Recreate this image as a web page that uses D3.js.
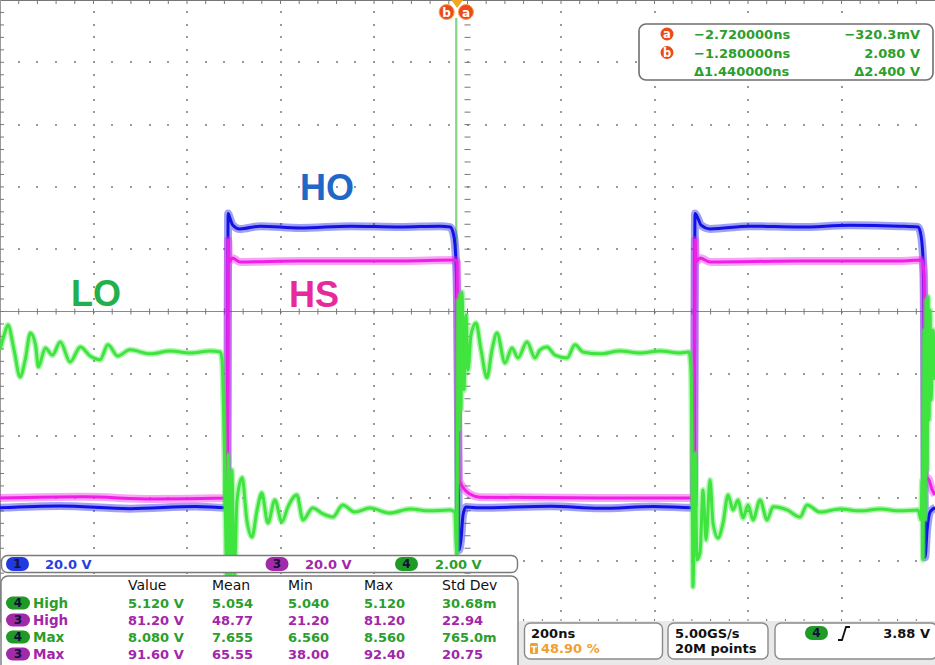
<!DOCTYPE html>
<html><head><meta charset="utf-8">
<script src="https://cdn.jsdelivr.net/npm/d3@7"></script>
<style>html,body{margin:0;padding:0;background:#fff;}svg{display:block;}</style>
</head><body>
<script>
// ---------- data ----------
const timePerDivNs = 200;
const triggerPct = 48.9;
// channel settings: [volts/div, position (div)]
const ch1Setting = [20, -3.15];   // HO
const ch3Setting = [20, -3.0];    // HS
const ch4Setting = [2, -3.2];     // LO

// traces: [time ns, volts]
const hoTrace = [[-978,0],[-850,0.6],[-700,-0.3],[-560,0.4],[-495,0],[-492,0.9],[-490,94.5],[-486,92.9],[-480,90.7],[-465,89.5],[-422,90.4],[-336,89.8],[-229,90.4],[-122,90.1],[-37,90.4],[-15,90.1],[-9,88.4],[-4.7,84.3],[-0.4,66.6],[1.7,28.1],[3.9,-13.6],[8.1,-10.3],[12.4,-2.3],[18.8,0.2],[48.8,0],[200,0.5],[305,-0.2],[420,0.4],[502,0],[506.5,0.9],[508.7,94.5],[515,92.9],[521.5,90.7],[541,89.5],[626,90.4],[733,90.1],[840,90.7],[947,90.4],[986,90.1],[992,87.5],[996.5,79.5],[998.6,57.0],[1000.7,-15.9],[1005,-7.3],[1011.5,-1.4],[1022,0]];
const hsTrace = [[-978,0.1],[-800,0.5],[-650,-0.2],[-495,0.1],[-492,1.1],[-490,83],[-488,75.9],[-481,77.2],[-465,75.9],[-336,76.2],[-122,76.2],[-4.7,76.5],[-0.4,75.9],[1.7,31.6],[3.9,5.9],[8.1,4.6],[16.6,2.7],[27.4,1.4],[48.8,0.4],[305,0.1],[504,0.1],[506.5,1.1],[508.7,83],[510.8,75.9],[519.4,77.2],[541,75.9],[733,76.2],[947,76.2],[994,76.5],[998.6,71.7],[1000.7,5.9],[1007,6.5],[1016,2.7],[1022,1.1]];
const loTrace = [[-978,5.17],[-969,5.65],[-961,5.97],[-948,5.17],[-935,4.30],[-924,4.85],[-913,5.71],[-902,5.33],[-896,4.62],[-881,5.23],[-866,5.00],[-849,5.42],[-828,4.78],[-806,5.26],[-785,4.97],[-764,4.85],[-747,5.33],[-726,4.97],[-700,5.17],[-657,5.04],[-614,5.13],[-571,5.07],[-528,5.13],[-507,5.10],
 [-503,4.85],[-499,2.60],[-495,-0.93],[-492,-2.86],[-490,1.80],[-486,-3.18],[-482,1.31],[-477,-2.22],[-471,0.35],[-460,1.06],[-450,-0.29],[-439,-0.84],[-428,0.03],[-418,0.57],[-405,-0.39],[-390,0.35],[-375,-0.36],[-362,0.13],[-343,0.51],[-330,-0.29],[-309,0.09],[-287,-0.10],[-266,-0.20],[-245,0.19],[-219,-0.04],[-187,0.09],[-144,-0.07],[-101,0.06],[-58,0.00],[-15,0.03],[-5,-0.04],
 [-2.6,-0.93],[-0.4,-1.41],[1.7,6.77],[3.9,2.60],[6.0,6.93],[8.1,3.24],[10.3,7.02],[14.5,3.88],[18.8,6.29],[23.1,4.52],[29.5,5.65],[40.2,6.03],[50.9,5.17],[63.7,4.27],[74.4,5.17],[85.1,5.71],[102.2,4.75],[117.2,5.23],[130,4.91],[149.3,5.42],[166.4,4.91],[177.1,5.17],[192.1,5.26],[209.2,5.00],[234.9,4.91],[252,5.33],[269.1,5.10],[305.4,5.04],[348.2,5.13],[391,5.07],[433.8,5.13],[476.6,5.07],[495.8,5.10],
 [500.1,4.52],[502.2,1.96],[504.4,-2.44],[508.7,1.86],[513,-1.57],[519.4,-1.35],[525.8,0.67],[532.2,-0.93],[540.8,0.99],[547.2,-0.39],[557.9,-0.87],[568.6,-0.39],[579.3,0.51],[590,0.03],[600.7,0.35],[611.4,-0.23],[622.1,0.19],[632.8,-0.29],[647.8,0.35],[662.8,-0.29],[675.6,0.13],[705.5,0.03],[733.3,-0.20],[748.3,0.19],[776.1,-0.04],[818.9,0.06],[861.7,0.00],[904.5,0.06],[947.3,0.00],[985.8,0.03],
 [992.2,-0.29],[994.3,0.99],[996.5,-1.57],[998.6,5.81],[1000.7,-0.29],[1002.9,6.77],[1005,1.31],[1007.2,6.87],[1009.3,2.92],[1011.5,6.45],[1013.6,3.56],[1017.9,5.81],[1022,4.20]];

const cursorTimes = [-2.72, -1.28];      // a, b
const cursorRows = [["a","\u22122.720000ns","\u2212320.3mV"],["b","\u22121.280000ns","2.080 V"],["","\u03941.440000ns","\u03942.400 V"]];
const channelBar = [["1","20.0 V"],["3","20.0 V"],["4","2.00 V"]];
const measHeaders = ["Value","Mean","Min","Max","Std Dev"];
const measLabels = [["4","High"],["3","High"],["4","Max"],["3","Max"]];
const measValues = [
  ["5.120 V","5.054","5.040","5.120","30.68m"],
  ["81.20 V","48.77","21.20","81.20","22.94"],
  ["8.080 V","7.655","6.560","8.560","765.0m"],
  ["91.60 V","65.55","38.00","92.40","20.75"]];
const timebaseText = ["200ns","48.90 %"];
const acqText = ["5.00GS/s","20M points"];
const trigText = ["4","3.88 V"];
const traceLabels = [["HO",1],["LO",4],["HS",3]];

// ---------- styles ----------
const W = 935, H = 665, GW = 935, GH = 623;
const col = {1:"#1212e6", 3:"#f01ee6", 4:"#3fe43f"};
const txtCol = {1:"#2a3ee0", 3:"#a326aa", 4:"#2c9e2c"};
const pillCol = {1:"#2238e0", 3:"#a02aa8", 4:"#1f9a25"};
const labelCol = {1:"#1f68c8", 3:"#e62a9c", 4:"#22b04c"};
const font = "'DejaVu Sans', Verdana, sans-serif";

const svg = d3.select("body").append("svg").attr("width", W).attr("height", H);
svg.append("rect").attr("width", W).attr("height", H).attr("fill", "#fff");

const x = d3.scaleLinear()
  .domain([-triggerPct/10*timePerDivNs, (10-triggerPct/10)*timePerDivNs])
  .range([0, GW]);
function yFor(s){ return d3.scaleLinear().domain([(-5 - s[1])*s[0], (5 - s[1])*s[0]]).range([GH, 0]); }
const y1 = yFor(ch1Setting), y3 = yFor(ch3Setting), y4 = yFor(ch4Setting);

// ---------- graticule ----------
const dx = GW/10, dy = GH/10;
const g = svg.append("g");
const dots = [];
for (let k = 1; k < 10; k++) {
  if (k === 5) continue;
  for (let j = 1; j < 50; j++) dots.push([k*dx, j*dy/5]);
  for (let j = 1; j < 50; j++) dots.push([j*dx/5, k*dy]);
}
g.selectAll("rect.dot").data(dots).join("rect").attr("class","dot")
  .attr("x", d => Math.round(d[0])-1).attr("y", d => Math.round(d[1])-1).attr("width",2).attr("height",2).attr("fill","#9a9a9a");
// center cross
g.append("line").attr("x1",0).attr("x2",GW).attr("y1",GH/2).attr("y2",GH/2).attr("stroke","#8a8a8a").attr("stroke-width",1);
const hT = d3.range(1,50).map(j => j*dx/5), vT = d3.range(1,50).map(j => j*dy/5);
g.selectAll("line.ht").data(hT).join("line").attr("class","ht")
  .attr("x1",d=>d).attr("x2",d=>d).attr("y1",GH/2-3).attr("y2",GH/2+3).attr("stroke","#777");
g.selectAll("line.vt").data(vT).join("line").attr("class","vt")
  .attr("y1",d=>d).attr("y2",d=>d).attr("x1",GW/2-3).attr("x2",GW/2+3).attr("stroke","#777");
// border ticks
g.append("line").attr("x1",0).attr("x2",GW).attr("y1",0.5).attr("y2",0.5).attr("stroke","#777");
g.append("line").attr("x1",0.5).attr("x2",0.5).attr("y1",0).attr("y2",GH).attr("stroke","#999");
g.selectAll("line.tt").data(hT).join("line").attr("class","tt")
  .attr("x1",d=>d).attr("x2",d=>d).attr("y1",0).attr("y2",4).attr("stroke","#777");
g.selectAll("line.bt").data(hT).join("line").attr("class","bt")
  .attr("x1",d=>d).attr("x2",d=>d).attr("y1",GH-4).attr("y2",GH).attr("stroke","#777");
g.selectAll("line.lt").data(vT).join("line").attr("class","lt")
  .attr("y1",d=>d).attr("y2",d=>d).attr("x1",0).attr("x2",4).attr("stroke","#777");

// ---------- cursors ----------
cursorTimes.forEach(t => {
  svg.append("line").attr("x1",x(t)).attr("x2",x(t)).attr("y1",18).attr("y2",GH-66)
    .attr("stroke","#86d886").attr("stroke-width",1.6);
});

// ---------- traces ----------
function drawTrace(data, ys, c, halo) {
  const line = d3.line().curve(d3.curveMonotoneX).x(d => x(d[0])).y(d => ys(d[1]));
  svg.append("path").datum(data).attr("d", line).attr("fill","none")
    .attr("stroke", c).attr("stroke-width", halo).attr("stroke-opacity", 0.4).attr("stroke-linejoin","round");
  svg.append("path").datum(data).attr("d", line).attr("fill","none")
    .attr("stroke", c).attr("stroke-width", 3).attr("stroke-linejoin","round");
}
drawTrace(hoTrace, y1, col[1], 8);
drawTrace(hsTrace, y3, col[3], 8);
drawTrace(loTrace, y4, col[4], 6);

// ---------- trace labels ----------
const labelPos = {HO:[300,200], LO:[71,306], HS:[289,307]};
traceLabels.forEach(([t,c]) => {
  svg.append("text").attr("x",labelPos[t][0]).attr("y",labelPos[t][1]).text(t)
    .attr("font-family","'Liberation Sans', Arial, sans-serif").attr("font-weight","bold")
    .attr("font-size",36).attr("fill",labelCol[c]);
});

// ---------- top markers ----------
const trigX = x(0);
svg.append("path").attr("d",`M${trigX-6},0 L${trigX+6},0 L${trigX},8 Z`).attr("fill","#f4a623");
[["b",x(cursorTimes[1])-10],["a",x(cursorTimes[0])+10]].forEach(([l,cx]) => {
  svg.append("circle").attr("cx",cx).attr("cy",12).attr("r",7.5).attr("fill","#ec4a18").attr("stroke","#f6a04a").attr("stroke-width",1);
  svg.append("text").attr("x",cx).attr("y",16.5).attr("text-anchor","middle").text(l)
    .attr("font-family",font).attr("font-weight","bold").attr("font-size",12).attr("fill","#fff");
});

// ---------- cursor readout ----------
svg.append("rect").attr("x",639).attr("y",24).attr("width",294).attr("height",56).attr("rx",7)
  .attr("fill","#fff").attr("stroke","#6f6f6f").attr("stroke-width",1.6);
cursorRows.forEach((r,i) => {
  const yy = 34 + i*18.5;
  if (r[0]) {
    svg.append("circle").attr("cx",667).attr("cy",yy).attr("r",6.5).attr("fill","#ec4a18");
    svg.append("text").attr("x",667).attr("y",yy+4.2).attr("text-anchor","middle").text(r[0])
      .attr("font-family",font).attr("font-weight","bold").attr("font-size",11.5).attr("fill","#fff");
  }
  svg.append("text").attr("x",694).attr("y",yy+5).text(r[1])
    .attr("font-family",font).attr("font-weight","bold").attr("font-size",13).attr("fill",txtCol[4]);
  svg.append("text").attr("x",920).attr("y",yy+5).attr("text-anchor","end").text(r[2])
    .attr("font-family",font).attr("font-weight","bold").attr("font-size",13).attr("fill",txtCol[4]);
});

// ---------- bottom panels ----------
svg.append("rect").attr("x",518).attr("y",621).attr("width",W-518).attr("height",H-621).attr("fill","#e9e9e9");
function pill(cx, cy, w, h, fill, label) {
  svg.append("rect").attr("x",cx-w/2).attr("y",cy-h/2).attr("width",w).attr("height",h).attr("rx",h/2).attr("fill",fill);
  svg.append("text").attr("x",cx).attr("y",cy+4.3).attr("text-anchor","middle").text(label)
    .attr("font-family",font).attr("font-weight","bold").attr("font-size",12).attr("fill","#10103a");
}
// channel bar
svg.append("rect").attr("x",1.5).attr("y",555.5).attr("width",516).attr("height",17).attr("rx",6)
  .attr("fill","#fff").attr("stroke","#7a7a7a").attr("stroke-width",1.4);
const chPos = [[17.5,45],[277,305],[406.5,435]];
channelBar.forEach((c,i) => {
  pill(chPos[i][0], 564, 23, 14, pillCol[+c[0]], c[0]);
  svg.append("text").attr("x",chPos[i][1]).attr("y",569).text(c[1])
    .attr("font-family",font).attr("font-weight","bold").attr("font-size",13).attr("fill",txtCol[+c[0]]);
});
// measurement table
svg.append("rect").attr("x",1).attr("y",576).attr("width",517).attr("height",100).attr("rx",7)
  .attr("fill","#fff").attr("stroke","#7a7a7a").attr("stroke-width",1.4);
const colX = [128,212,288,364,442];
measHeaders.forEach((h,i) => {
  svg.append("text").attr("x",colX[i]).attr("y",590).text(h)
    .attr("font-family",font).attr("font-size",14).attr("fill","#111");
});
measLabels.forEach((lab,r) => {
  const yy = 603 + r*17;
  const c = +lab[0];
  pill(18, yy, 24, 13, pillCol[c], lab[0]);
  svg.append("text").attr("x",33).attr("y",yy+5).text(lab[1])
    .attr("font-family",font).attr("font-weight","bold").attr("font-size",13.5).attr("fill",txtCol[c]);
  measValues[r].forEach((v,i) => {
    svg.append("text").attr("x",colX[i]).attr("y",yy+5).text(v)
      .attr("font-family",font).attr("font-weight","bold").attr("font-size",13).attr("fill",txtCol[c]);
  });
});
// timebase box
function box(x0, w) {
  svg.append("rect").attr("x",x0).attr("y",623).attr("width",w).attr("height",36).attr("rx",6)
    .attr("fill","#fff").attr("stroke","#8a8a8a").attr("stroke-width",1.4);
}
box(524.5, 138); box(668, 100); box(775, 162);
svg.append("text").attr("x",531).attr("y",638).text(timebaseText[0])
  .attr("font-family",font).attr("font-weight","bold").attr("font-size",13).attr("fill","#111");
svg.append("rect").attr("x",530).attr("y",643).attr("width",8).attr("height",11).attr("rx",1.5).attr("fill","#f0a030");
svg.append("text").attr("x",534).attr("y",652.5).attr("text-anchor","middle").text("T")
  .attr("font-family",font).attr("font-weight","bold").attr("font-size",9).attr("fill","#fff");
svg.append("text").attr("x",541).attr("y",653).text(timebaseText[1])
  .attr("font-family",font).attr("font-weight","bold").attr("font-size",13).attr("fill","#f0a030");
acqText.forEach((t,i) => {
  svg.append("text").attr("x",675).attr("y",638+i*15).text(t)
    .attr("font-family",font).attr("font-weight","bold").attr("font-size",13).attr("fill","#111");
});
pill(816.5, 633, 23, 14, pillCol[4], trigText[0]);
svg.append("path").attr("d","M838,640 L842,640 L846,627 L850,627").attr("fill","none").attr("stroke","#111").attr("stroke-width",1.8);
svg.append("text").attr("x",930).attr("y",638).attr("text-anchor","end").text(trigText[1])
  .attr("font-family",font).attr("font-weight","bold").attr("font-size",13).attr("fill","#111");
</script>
</body></html>
